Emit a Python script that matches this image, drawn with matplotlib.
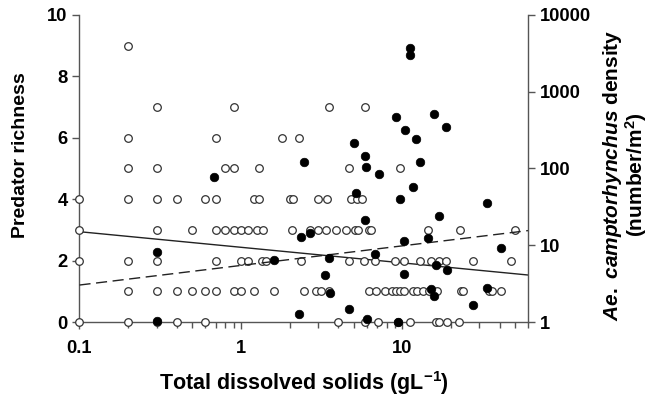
import matplotlib
matplotlib.use("Agg")
import matplotlib.pyplot as plt
from matplotlib.ticker import FixedLocator, NullLocator, FuncFormatter, LogLocator

plt.rcParams['font.family'] = ['Liberation Sans', 'DejaVu Sans']
plt.rcParams['font.weight'] = 'bold'
plt.rcParams['mathtext.fontset'] = 'custom'
plt.rcParams['mathtext.rm'] = 'Liberation Sans:bold'
plt.rcParams['mathtext.it'] = 'Liberation Sans:italic:bold'
plt.rcParams['mathtext.bf'] = 'Liberation Sans:bold'

# Predator richness (open circles) grouped by richness value
rich_9 = [0.2]
rich_7 = [0.3, 0.9, 3.5, 5.9]
rich_6 = [0.2, 0.7, 1.8, 2.3]
rich_5 = [0.2, 0.3, 0.8, 0.9, 1.3, 4.7, 9.7]
rich_4 = [0.1, 0.2, 0.3, 0.4, 0.6, 0.7, 1.2, 1.3, 2.0, 2.1, 3.0, 3.4, 4.8, 5.25, 5.6]
rich_3 = [0.1, 0.3, 0.5, 0.7, 0.8, 0.9, 1.0, 1.1, 1.25, 1.37, 2.07, 2.66, 3.0, 3.35,
          3.9, 4.5, 5.1, 5.3, 6.2, 6.4, 14.4, 22.8, 50]
rich_2 = [0.1, 0.2, 0.3, 0.7, 1.0, 1.1, 1.35, 1.42, 2.37, 4.66, 5.8, 6.8, 9.0, 10.3,
          12.8, 15.0, 16.8, 18.7, 27.5, 47]
rich_1 = [0.2, 0.3, 0.4, 0.5, 0.6, 0.7, 0.9, 1.0, 1.2, 1.6, 2.45, 2.9, 3.15, 3.5, 6.2,
          6.9, 7.75, 8.6, 9.1, 9.6, 10.3, 11.7, 12.3, 13.5, 14.7, 16.5, 23.0, 23.7,
          34.6, 35.9, 40.8]
rich_0 = [0.1, 0.2, 0.3, 0.4, 0.6, 4.0, 5.9, 7.1, 9.4, 11.2, 16.2, 16.8, 19.0, 22.5]
rich_groups = {9: rich_9, 7: rich_7, 6: rich_6, 5: rich_5, 4: rich_4, 3: rich_3,
               2: rich_2, 1: rich_1, 0: rich_0}

# Ae. camptorhynchus density (filled circles)
dens_tds = [0.3, 0.3, 0.68, 1.6, 2.3, 2.37, 2.45, 2.66, 3.3, 3.5, 3.54, 4.66, 5.0, 5.18,
            5.9, 5.9, 5.94, 6.0, 6.8, 7.15, 9.1, 9.4, 9.6, 10.2, 10.2, 10.4, 11.1, 11.1,
            11.7, 12.1, 12.8, 14.4, 15.1, 15.8, 15.8, 16.2, 16.9, 18.6, 18.8, 27.5,
            33.4, 33.4, 40.8]
dens_val = [8.1, 1.04, 78, 6.4, 1.27, 12.7, 120, 14.4, 4.1, 6.8, 2.37, 1.48, 213, 48,
            146, 21, 105, 1.09, 7.6, 84, 473, 1.0, 40, 11.4, 4.2, 318, 3700, 3000,
            57, 240, 120, 12.3, 2.67, 2.2, 504, 5.6, 24, 350, 4.8, 1.65,
            35, 2.75, 9.3]

# Regression lines (end points)
fit_x = [0.1, 60]
fit_rich = [2.94, 1.53]
fit_dens = [3.03, 15.5]

rich_x = []
rich_y = []
for k, xs in rich_groups.items():
    rich_x += xs
    rich_y += [k] * len(xs)

fig = plt.figure(figsize=(6.5, 4.01), dpi=100)
ax = fig.add_axes([0.1223, 0.197, 0.690, 0.766])
ax2 = ax.twinx()

spine_col = '#555555'
ax.plot(fit_x, fit_rich, color='#222222', lw=1.0, zorder=2)
ax.scatter(rich_x, rich_y, s=30, facecolor='white', edgecolor='#333333',
           linewidths=0.9, zorder=4, clip_on=False)

ax2.plot(fit_x, fit_dens, color='#222222', lw=1.0, dashes=(8, 4), zorder=2)
ax2.scatter(dens_tds, dens_val, s=38, facecolor='black', edgecolor='black',
            linewidths=0.5, zorder=5, clip_on=False)

ax.set_xscale('log')
ax.set_xlim(0.1, 60)
ax.set_ylim(0, 10)
ax.set_yticks([0, 2, 4, 6, 8, 10])
ax.xaxis.set_major_locator(FixedLocator([0.1, 1, 10]))
ax.xaxis.set_minor_locator(LogLocator(base=10, subs=range(2, 10)))
ax.xaxis.set_major_formatter(FuncFormatter(lambda v, p: {0.1: '0.1', 1: '1', 10: '10'}.get(round(v, 3), '')))
ax.xaxis.set_minor_formatter(FuncFormatter(lambda v, p: ''))

ax2.set_yscale('log')
ax2.set_ylim(1, 10000)
ax2.yaxis.set_major_locator(FixedLocator([1, 10, 100, 1000, 10000]))
ax2.yaxis.set_minor_locator(NullLocator())
ax2.yaxis.set_major_formatter(FuncFormatter(lambda v, p: '%d' % round(v)))

for a in (ax, ax2):
    a.spines['top'].set_visible(False)
    for s in ('left', 'right', 'bottom'):
        a.spines[s].set_color(spine_col)
        a.spines[s].set_linewidth(1.0)
    a.tick_params(which='both', color=spine_col, labelsize=13.2, width=1.0)
    a.tick_params(which='major', length=5)
    a.tick_params(which='minor', length=4)
ax.spines['right'].set_visible(False)
ax2.spines['left'].set_visible(False)
ax2.spines['bottom'].set_visible(False)
ax.tick_params(axis='x', pad=8)

for lbl in ax.get_xticklabels() + ax.get_yticklabels() + ax2.get_yticklabels():
    lbl.set_fontweight('bold')

ax.set_ylabel('Predator richness', fontsize=14, fontweight='bold')
ax.yaxis.set_label_coords(-0.113, 0.544)
ax.set_xlabel('Total dissolved solids (gL$^{-1}$)', fontsize=15.5, fontweight='bold', labelpad=9)
ax2.set_ylabel('$\\mathit{Ae.}$ $\\mathit{camptorhynchus}$ density\n(number/m$^{2}$)',
               fontsize=15, fontweight='bold', linespacing=0.95)
ax2.yaxis.set_label_coords(1.163, 0.479)

fig.savefig('out.png', dpi=100)
